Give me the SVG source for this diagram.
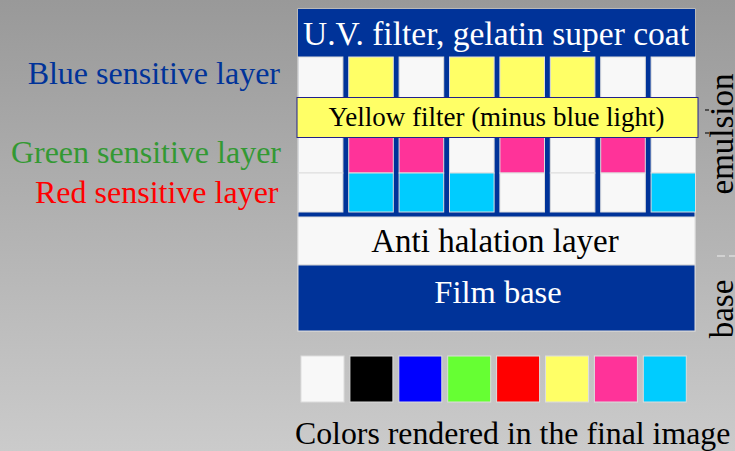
<svg xmlns="http://www.w3.org/2000/svg" width="735" height="451" viewBox="0 0 735 451">
<defs>
<linearGradient id="bg" x1="0" y1="0" x2="0" y2="1">
<stop offset="0" stop-color="#999999"/>
<stop offset="1" stop-color="#cbcbcb"/>
</linearGradient>
</defs>
<style>
text{font-family:"Liberation Serif","Times New Roman",serif}
.c{stroke:#dddddd;stroke-width:1}
.w{fill:#f8f8f8}.y{fill:#ffff66}.m{fill:#ff3399}.cy{fill:#00ccff}
.navy{fill:#003399}
.lbl{font-size:32px;text-anchor:end}
.in{text-anchor:middle}
</style>
<rect width="735" height="451" fill="url(#bg)"/>

<g id="frame">
<rect x="298" y="9" width="397" height="322" fill="#003399" stroke="#d8d8d8" stroke-width="1"/>
</g>

<g id="uv-layer">
<rect x="298" y="9" width="397" height="48" class="navy"/>
<text x="496" y="44.5" class="in" font-size="33.5" fill="#ffffff">U.V. filter, gelatin super coat</text>
</g>

<g id="blue-row">
<rect x="298.3" y="57" width="44.6" height="44" class="c w"/>
<rect x="348.7" y="57" width="44.6" height="44" class="c y"/>
<rect x="399.1" y="57" width="44.6" height="44" class="c w"/>
<rect x="449.5" y="57" width="44.6" height="44" class="c y"/>
<rect x="499.9" y="57" width="44.6" height="44" class="c y"/>
<rect x="550.3" y="57" width="44.6" height="44" class="c y"/>
<rect x="600.7" y="57" width="44.6" height="44" class="c w"/>
<rect x="651.1" y="57" width="44.4" height="44" class="c w"/>
</g>

<g id="green-row">
<rect x="298.3" y="134" width="44.6" height="39" class="c w"/>
<rect x="348.7" y="134" width="44.6" height="39" class="c m"/>
<rect x="399.1" y="134" width="44.6" height="39" class="c m"/>
<rect x="449.5" y="134" width="44.6" height="39" class="c w"/>
<rect x="499.9" y="134" width="44.6" height="39" class="c m"/>
<rect x="550.3" y="134" width="44.6" height="39" class="c w"/>
<rect x="600.7" y="134" width="44.6" height="39" class="c m"/>
<rect x="651.1" y="134" width="44.4" height="39" class="c w"/>
</g>

<g id="red-row">
<rect x="298.3" y="173" width="44.6" height="39" class="c w"/>
<rect x="348.7" y="173" width="44.6" height="39" class="c cy"/>
<rect x="399.1" y="173" width="44.6" height="39" class="c cy"/>
<rect x="449.5" y="173" width="44.6" height="39" class="c cy"/>
<rect x="499.9" y="173" width="44.6" height="39" class="c w"/>
<rect x="550.3" y="173" width="44.6" height="39" class="c w"/>
<rect x="600.7" y="173" width="44.6" height="39" class="c w"/>
<rect x="651.1" y="173" width="44.4" height="39" class="c cy"/>
</g>

<g id="yellow-filter">
<rect x="297" y="97.5" width="401" height="40" fill="#ffff66" stroke="#22228a" stroke-width="1"/>
<text x="496.5" y="126" class="in" font-size="27" fill="#000000">Yellow filter (minus blue light)</text>
</g>

<g id="anti-halation">
<rect x="298" y="217" width="397" height="48" fill="#f8f8f8" stroke="#dddddd" stroke-width="1"/>
<text x="495" y="251.5" class="in" font-size="33" fill="#000000">Anti halation layer</text>
</g>

<g id="film-base">
<rect x="298" y="265" width="397" height="66" class="navy" stroke="#d8d8d8" stroke-width="1"/>
<text x="498" y="303" class="in" font-size="32.5" fill="#ffffff">Film base</text>
</g>

<g id="labels">
<text x="280" y="84" class="lbl" fill="#003399">Blue sensitive layer</text>
<text x="281" y="163" class="lbl" fill="#339933">Green sensitive layer</text>
<text x="278.5" y="202.5" class="lbl" fill="#ff0000">Red sensitive layer</text>
</g>

<g id="side-labels">
<text transform="translate(733,134) rotate(-90)" class="in" font-size="33" fill="#000000">emulsion</text>
<text transform="translate(733,309) rotate(-90)" class="in" font-size="33" fill="#000000">base</text>
</g>

<g id="swatches">
<rect x="301" y="356" width="43" height="46" class="c w"/>
<rect x="349.9" y="356" width="43" height="46" class="c" fill="#000000"/>
<rect x="398.8" y="356" width="43" height="46" class="c" fill="#0000ff"/>
<rect x="447.7" y="356" width="43" height="46" class="c" fill="#66ff33"/>
<rect x="496.6" y="356" width="43" height="46" class="c" fill="#ff0000"/>
<rect x="545.5" y="356" width="43" height="46" class="c y"/>
<rect x="594.4" y="356" width="43" height="46" class="c m"/>
<rect x="643.3" y="356" width="43" height="46" class="c cy"/>
<text x="295" y="444" font-size="31.8" fill="#000000">Colors rendered in the final image</text>
</g>

<g id="connectors">
<line x1="717" y1="256" x2="735" y2="256" stroke="#eeeeee" stroke-width="1" stroke-dasharray="8 4"/>
<line x1="705" y1="110" x2="709" y2="110" stroke="#333333" stroke-width="1.5"/>
<line x1="705" y1="133" x2="709" y2="133" stroke="#333333" stroke-width="1.5"/>
</g>
</svg>
